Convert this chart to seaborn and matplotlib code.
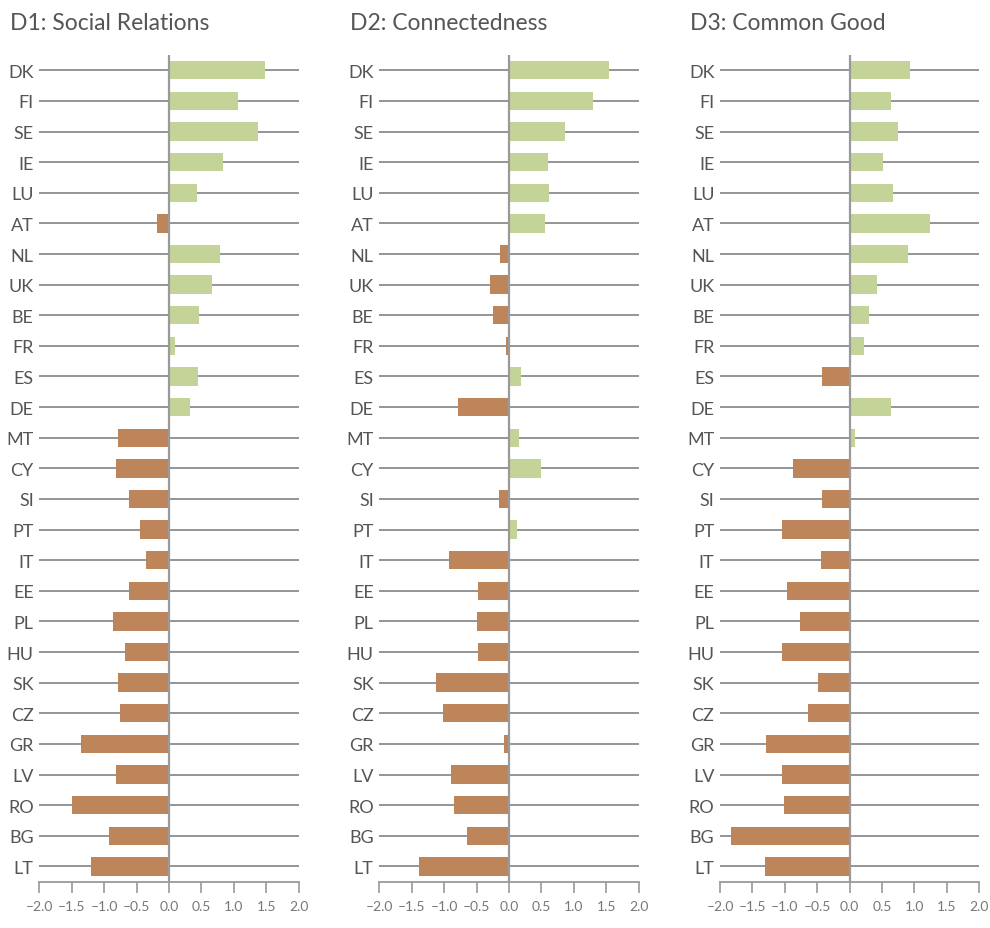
import numpy as np
import pandas as pd
import seaborn as sns
import matplotlib.pyplot as plt

countries = ['DK', 'FI', 'SE', 'IE', 'LU', 'AT', 'NL', 'UK', 'BE', 'FR', 'ES', 'DE', 'MT', 'CY',
             'SI', 'PT', 'IT', 'EE', 'PL', 'HU', 'SK', 'CZ', 'GR', 'LV', 'RO', 'BG', 'LT']

titles = ['D1: Social Relations', 'D2: Connectedness', 'D3: Common Good']

d1_social = [1.48, 1.06, 1.37, 0.84, 0.43, -0.19, 0.78, 0.66, 0.46, 0.10, 0.44, 0.33, -0.79, -0.82,
             -0.62, -0.45, -0.36, -0.62, -0.87, -0.68, -0.78, -0.75, -1.36, -0.81, -1.49, -0.93, -1.21]
d2_connect = [1.54, 1.29, 0.86, 0.60, 0.61, 0.55, -0.14, -0.30, -0.25, -0.05, 0.18, -0.79, 0.16, 0.49,
              -0.16, 0.13, -0.92, -0.48, -0.50, -0.48, -1.13, -1.02, -0.07, -0.90, -0.85, -0.65, -1.39]
d3_common = [0.93, 0.64, 0.75, 0.51, 0.67, 1.24, 0.90, 0.42, 0.30, 0.22, -0.43, 0.64, 0.08, -0.87,
             -0.43, -1.04, -0.44, -0.97, -0.77, -1.04, -0.49, -0.64, -1.29, -1.04, -1.01, -1.83, -1.31]

xticks = [-2.0, -1.5, -1.0, -0.5, 0.0, 0.5, 1.0, 1.5, 2.0]

green = '#C4D398'
brown = '#BE845A'
text_col = '#555555'
line_col = '#8C8C8C'

sns.set_style('white')
plt.rcParams['font.family'] = ['Lato', 'DejaVu Sans']

W, H = 990, 929
fig = plt.figure(figsize=(W / 100, H / 100), dpi=100)

# pixel positions of each panel (left, right) and title x
panel_px = [(39.3, 298.7, 10), (379.3, 638.7, 350), (720.0, 979.3, 690)]
top_px, bottom_px = 56.0, 882.7

for (left, right, tx), title, vals in zip(panel_px, titles, [d1_social, d2_connect, d3_common]):
    ax = fig.add_axes([left / W, 1 - bottom_px / H, (right - left) / W, (bottom_px - top_px) / H])
    df = pd.DataFrame({'country': countries, 'value': vals})
    df['sign'] = np.where(df['value'] >= 0, 'pos', 'neg')
    sns.barplot(data=df, x='value', y='country', hue='sign', palette={'pos': green, 'neg': brown},
                dodge=False, legend=False, width=0.6, saturation=1, orient='h', ax=ax,
                zorder=3, linewidth=0)
    ax.set_xlim(-2, 2)
    ax.set_ylim(26.5, -0.5)
    ax.set_xticks(xticks)
    ax.set_xticklabels([f'{t:.1f}'.replace('-', '\u2013') for t in xticks])
    ax.set_xlabel('')
    ax.set_ylabel('')
    ax.grid(axis='y', color=line_col, linewidth=1.3, zorder=0)
    ax.grid(axis='x', visible=False)
    ax.set_axisbelow(True)
    ax.axvline(0, color='#9A9A9A', linewidth=1.6, zorder=4)
    for s in ['top', 'right', 'left']:
        ax.spines[s].set_visible(False)
    ax.spines['bottom'].set_color('#9A9A9A')
    ax.spines['bottom'].set_linewidth(1.3)
    ax.tick_params(axis='y', length=0, pad=4, labelsize=13, labelcolor=text_col)
    ax.tick_params(axis='x', direction='out', length=8, width=1.2, color='#9A9A9A',
                   labelsize=10, labelcolor='#777777', pad=5, bottom=True)
    fig.text(tx / W, 1 - 24 / H, title, fontsize=16.5, color=text_col, ha='left', va='center')

fig.savefig('out.png', dpi=100)
